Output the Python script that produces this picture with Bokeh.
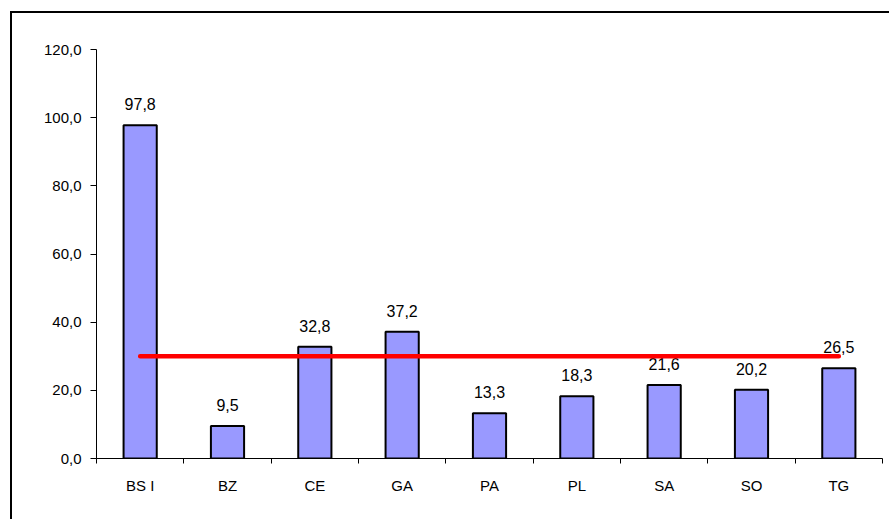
import numpy as np
from bokeh.plotting import figure
from bokeh.models import Range1d, FixedTicker, CustomJSTickFormatter, ColumnDataSource
from bokeh.embed import file_html
from bokeh.resources import INLINE
from bokeh.core.properties import value

categories = ["BS I", "BZ", "CE", "GA", "PA", "PL", "SA", "SO", "TG"]
values = [97.8, 9.5, 32.8, 37.2, 13.3, 18.3, 21.6, 20.2, 26.5]
average = 30.0
y_ticks = [0, 20, 40, 60, 80, 100, 120]

centers = np.arange(len(categories)) + 0.5
labels = [f"{v:.1f}".replace(".", ",") for v in values]
src = ColumnDataSource(dict(x=centers, top=values, label=labels))

FONT = "Liberation Sans"

# outer chart border: only its left and top edges lie inside the window
border_css = (":host::before { content: ''; position: absolute; left: 10px; top: 11px; "
              "width: 877px; height: 506px; border-left: 2px solid #000; "
              "border-top: 2px solid #000; z-index: 10; pointer-events: none; }")

p = figure(width=889, height=519, output_backend="svg", toolbar_location=None,
           x_range=Range1d(0, len(categories)), y_range=Range1d(0, 120),
           min_border_left=96, min_border_right=7, min_border_top=49, min_border_bottom=61,
           outline_line_color=None, stylesheets=[border_css])
p.xgrid.visible = False
p.ygrid.visible = False

p.vbar(x="x", top="top", width=0.38, source=src, fill_color="#9999FF",
       line_color="black", line_width=2)
p.text(x="x", y="top", text="label", source=src, text_align="center",
       text_baseline="alphabetic", y_offset=-21, text_font=value(FONT),
       text_font_size="16px", text_color="black")
p.line(x=centers, y=[average] * len(categories), line_color="#FF0000",
       line_width=4.5, line_cap="round")

# y axis
p.yaxis.ticker = FixedTicker(ticks=y_ticks)
p.yaxis.formatter = CustomJSTickFormatter(code="return tick.toFixed(1).replace('.', ',');")
p.yaxis.major_label_text_font = FONT
p.yaxis.major_label_text_font_size = "15px"
p.yaxis.major_label_text_color = "black"
p.yaxis.axis_line_color = "black"
p.yaxis.major_tick_line_color = "black"
p.yaxis.major_tick_out = 6
p.yaxis.major_tick_in = 0
p.yaxis.minor_tick_line_color = None
p.yaxis.major_label_standoff = 9

# x axis: labels at centers, ticks at boundaries (minor ticks)
p.xaxis.ticker = FixedTicker(ticks=list(centers), minor_ticks=list(range(len(categories) + 1)))
p.xaxis.major_label_overrides = {float(c): cat for c, cat in zip(centers, categories)}
p.xaxis.major_tick_line_color = None
p.xaxis.major_tick_out = 6
p.xaxis.minor_tick_line_color = "black"
p.xaxis.minor_tick_out = 5
p.xaxis.minor_tick_in = 0
p.xaxis.axis_line_color = "black"
p.xaxis.major_label_text_font = FONT
p.xaxis.major_label_text_font_size = "15px"
p.xaxis.major_label_text_color = "black"
p.xaxis.major_label_standoff = 12

open("out.html", "w").write(file_html(p, INLINE))
